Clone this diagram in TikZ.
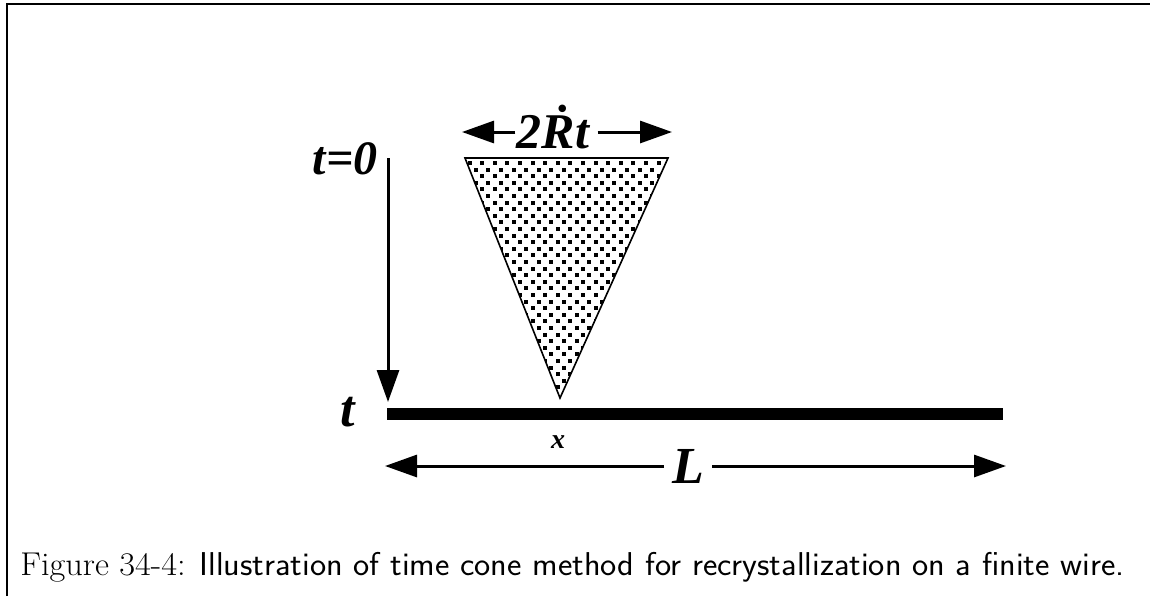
\documentclass[tikz,border=0pt]{standalone}
\usepackage{fontspec}
\newfontfamily\figfont{Liberation Serif}
\usetikzlibrary{arrows.meta,positioning,calc}

\begin{document}
\begin{tikzpicture}[x=0.5pt, y=-0.5pt,
  arr/.style={-{Triangle[length=16pt,width=11pt]}, line width=1.5pt},
  biglab/.style={font=\figfont\bfseries\itshape\fontsize{24}{24}\selectfont, inner sep=0pt},
  smalllab/.style={font=\figfont\bfseries\itshape\fontsize{14}{14}\selectfont, inner sep=0pt}
]
\useasboundingbox (0,0) rectangle (1150,596);
\draw[line width=1pt] (7,596) -- (7,3.5) -- (1150,3.5);

% the wire
\coordinate (wl) at (387,414);
\coordinate (wr) at (1003,414);
\draw[line width=6.2pt] (wl) -- (wr);

% time axis
\node[biglab] (tzero) at (345,159) {t=0};
\node[biglab, font=\figfont\bfseries\itshape\fontsize{26}{26}\selectfont] (tend) at (348,412) {t};
\coordinate (tax0) at (388,158);
\coordinate (tax1) at (388,402);
\draw[arr] (tax0) -- (tax1);

% the cone
\coordinate (cl) at (465,158);
\coordinate (cr) at (668,158);
\coordinate (ctip) at (560,398);
\begin{scope}
  \clip (cl) -- (cr) -- (ctip) -- cycle;
  \foreach \r in {0,...,37} {
    \pgfmathsetmacro{\yy}{161+\r*6.6}
    \pgfmathsetmacro{\xo}{mod(\r,2)*6.3}
    \foreach \c in {0,...,17}
      \fill ({467.5+\xo+\c*12.6},\yy) rectangle ++(4,4);
  }
\end{scope}
\draw[line width=0.8pt, line join=miter] (cl) -- (cr) -- (ctip) -- cycle;

% width of the cone
\node[biglab, font=\figfont\bfseries\itshape\fontsize{25}{25}\selectfont] (rt) at (553,127) {2\.{R}t};
\coordinate (rtl) at (462,132);
\coordinate (rtr) at (672,132);
\draw[arr] (rt.west) ++(-1,5) -- (rtl);
\draw[arr] (rt.east) ++(8,5) -- (rtr);

\node[smalllab] (xpos) at (558,442) {x};

% length of the wire
\node[biglab, font=\figfont\bfseries\itshape\fontsize{26}{26}\selectfont] (len) at (688,466) {L};
\coordinate (ll) at (385,466);
\coordinate (lr) at (1006,466);
\draw[arr] ([xshift=-12pt]len.center) -- (ll);
\draw[arr] ([xshift=12pt]len.center) -- (lr);

\node[anchor=base west, inner sep=0pt, font=\fontsize{16.5}{18}\selectfont] (cap) at (20,575)
  {\resizebox{552pt}{\height}{Figure 34-4: \sffamily Illustration of time cone method for recrystallization on a finite wire.}};
\end{tikzpicture}
\end{document}
